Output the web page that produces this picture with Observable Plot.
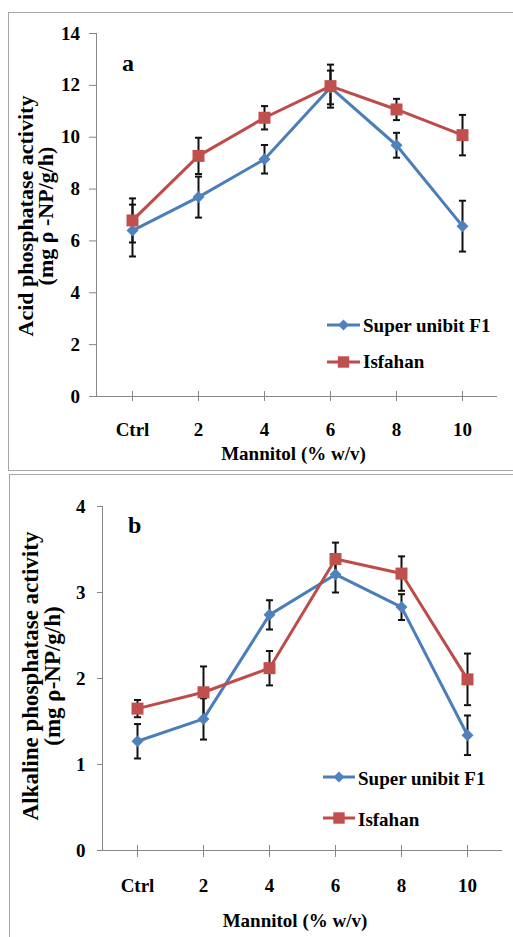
<!DOCTYPE html>
<html>
<head>
<meta charset="utf-8">
<script src="https://cdn.jsdelivr.net/npm/d3@7"></script>
<script src="https://cdn.jsdelivr.net/npm/@observablehq/plot@0.6"></script>
<style>
  html, body { margin: 0; padding: 0; background: #fff; width: 513px; height: 937px; overflow: hidden; }
  #page { position: relative; width: 513px; height: 937px; }
  .panel { position: absolute; left: 0; }
  .border { position: absolute; border: 1.5px solid #a6a6a6; box-sizing: border-box; pointer-events: none; }
  #overlay { position: absolute; left: 0; top: 0; pointer-events: none; }
  #overlay text { font-family: "Liberation Serif", "Times New Roman", serif; font-weight: bold; fill: #000; }
</style>
</head>
<body>
<div id="page">
  <div id="top" class="panel" style="top:0px"></div>
  <div id="bottom" class="panel" style="top:474px"></div>
  <div class="border" style="left:8px; top:12px; width:520px; height:459px;"></div>
  <div class="border" style="left:9px; top:474px; width:520px; height:480px;"></div>
  <svg id="overlay" width="513" height="937"></svg>
</div>
<script>
// ---- data ----
const categories = ["Ctrl", "2", "4", "6", "8", "10"];
const seriesNames = ["Super unibit F1", "Isfahan"];

// (a) Acid phosphatase activity (mg ρ-NP/g/h)
const acidSuper    = [6.40, 7.69, 9.15, 11.92, 9.69, 6.57];
const acidSuperErr = [1.00, 0.79, 0.55, 0.65, 0.48, 0.98];
const acidIsfahan    = [6.79, 9.28, 10.75, 11.97, 11.07, 10.08];
const acidIsfahanErr = [0.85, 0.70, 0.45, 0.83, 0.41, 0.78];
const acidTicks = [0, 2, 4, 6, 8, 10, 12, 14];

// (b) Alkaline phosphatase activity (mg ρ-NP/g/h)
const alkSuper    = [1.27, 1.53, 2.74, 3.21, 2.83, 1.34];
const alkSuperErr = [0.20, 0.24, 0.17, 0.21, 0.15, 0.23];
const alkIsfahan    = [1.65, 1.84, 2.12, 3.39, 3.22, 1.99];
const alkIsfahanErr = [0.10, 0.30, 0.20, 0.19, 0.20, 0.30];
const alkTicks = [0, 1, 2, 3, 4];

// ---- styles ----
const BLUE_LINE = "#4a7ebb", BLUE_MARK = "#4f81bd";
const RED_LINE = "#be4b48", RED_MARK = "#c0504d";
const AXIS = "#868686";
const FONT = "'Liberation Serif', 'Times New Roman', serif";

const diamondSym = {draw(ctx, size) { const r = Math.sqrt(size / 2); ctx.moveTo(0, -r); ctx.lineTo(r, 0); ctx.lineTo(0, r); ctx.lineTo(-r, 0); ctx.closePath(); }};
const capSym = {draw(ctx, size) { const w = Math.sqrt(size) / 2; ctx.moveTo(-w, 0); ctx.lineTo(w, 0); }};
const rFor = (area) => Math.sqrt(area / Math.PI);

function rows(vals, errs) {
  return categories.map((c, i) => ({cat: c, v: vals[i], lo: vals[i] - errs[i], hi: vals[i] + errs[i]}));
}

function panel(o) {
  const s1 = rows(o.v1, o.e1), s2 = rows(o.v2, o.e2);
  const errMarks = (d) => [
    Plot.ruleX(d, {x: "cat", y1: "lo", y2: "hi", stroke: "#111", strokeWidth: 2}),
    Plot.dot(d, {x: "cat", y: "lo", symbol: capSym, r: rFor(50), stroke: "#111", strokeWidth: 2, fill: "none"}),
    Plot.dot(d, {x: "cat", y: "hi", symbol: capSym, r: rFor(50), stroke: "#111", strokeWidth: 2, fill: "none"})
  ];
  return Plot.plot({
    width: 513,
    height: o.height,
    marginTop: o.mT, marginBottom: o.mB, marginLeft: o.mL, marginRight: o.mR,
    style: {fontFamily: FONT, fontWeight: "bold", fontSize: "19px", background: "transparent", color: "#000"},
    x: {type: "point", domain: categories, padding: 0.5, axis: null},
    y: {domain: [0, o.yTicks[o.yTicks.length - 1]], axis: null},
    marks: [
      Plot.ruleY([0], {stroke: AXIS, strokeWidth: 1}),
      Plot.frame({anchor: "left", stroke: AXIS, strokeWidth: 1}),
      Plot.axisY({ticks: o.yTicks, tickSize: o.yTickLen, tickPadding: o.yTickPad, stroke: AXIS, fill: "#000", fontSize: 19, label: null, tickFormat: d => String(d)}),
      Plot.axisX({tickSize: o.xTickLen, dy: -o.xTickUp, stroke: AXIS, tickFormat: null, label: null}),
      Plot.axisX({tickSize: 0, tickPadding: o.xLabPad, fill: "#000", fontSize: 19, label: null}),
      ...errMarks(s1),
      ...errMarks(s2),
      Plot.line(s1, {x: "cat", y: "v", stroke: BLUE_LINE, strokeWidth: 3}),
      Plot.dot(s1, {x: "cat", y: "v", symbol: diamondSym, r: rFor(72), fill: BLUE_MARK, stroke: "none"}),
      Plot.line(s2, {x: "cat", y: "v", stroke: RED_LINE, strokeWidth: 3}),
      Plot.dot(s2, {x: "cat", y: "v", symbol: "square", r: rFor(144), fill: RED_MARK, stroke: "none"})
    ]
  });
}

document.getElementById("top").append(panel({
  v1: acidSuper, e1: acidSuperErr, v2: acidIsfahan, e2: acidIsfahanErr, yTicks: acidTicks,
  height: 470, mT: 33, mB: 74, mL: 96, mR: 16,
  yTickLen: 7, yTickPad: 9.5, xTickLen: 10, xTickUp: 5, xLabPad: 25.5
}));
document.getElementById("bottom").append(panel({
  v1: alkSuper, e1: alkSuperErr, v2: alkIsfahan, e2: alkIsfahanErr, yTicks: alkTicks,
  height: 463, mT: 32, mB: 87, mL: 102, mR: 11,
  yTickLen: 5, yTickPad: 12, xTickLen: 12, xTickUp: 5, xLabPad: 27.5
}));

// ---- overlay text: titles, panel letters, legends ----
const ov = d3.select("#overlay");
function rotTitle(lines, cy) {
  lines.forEach(([t, bx, size]) => {
    ov.append("text").attr("transform", `translate(${bx},${cy}) rotate(-90)`)
      .attr("text-anchor", "middle").attr("font-size", size).text(t);
  });
}
rotTitle([["Acid phosphatase activity", 33, 22], ["(mg \u03c1 -NP/g/h)", 53, 22]], 216);
rotTitle([["Alkaline phosphatase activity", 38, 23], ["(mg \u03c1-NP/g/h)", 60, 23]], 676);

ov.append("text").attr("x", 293.5).attr("y", 460).attr("text-anchor", "middle").attr("font-size", 19).text("Mannitol (% w/v)");
ov.append("text").attr("x", 295).attr("y", 927).attr("text-anchor", "middle").attr("font-size", 19).text("Mannitol (% w/v)");
ov.append("text").attr("x", 122).attr("y", 71).attr("font-size", 24).text("a");
ov.append("text").attr("x", 128).attr("y", 533).attr("font-size", 24).text("b");

function legend(x0, x1, tx, ys, bases) {
  const items = [
    {name: seriesNames[0], line: BLUE_LINE, mark: BLUE_MARK, sym: d3.symbol(diamondSym, 60)},
    {name: seriesNames[1], line: RED_LINE, mark: RED_MARK, sym: d3.symbol(d3.symbolSquare, 130)}
  ];
  items.forEach((it, i) => {
    ov.append("line").attr("x1", x0).attr("x2", x1).attr("y1", ys[i]).attr("y2", ys[i])
      .attr("stroke", it.line).attr("stroke-width", 3);
    ov.append("path").attr("d", it.sym()).attr("transform", `translate(${(x0 + x1) / 2},${ys[i]})`).attr("fill", it.mark);
    ov.append("text").attr("x", tx).attr("y", bases[i]).attr("font-size", 19).text(it.name);
  });
}
legend(327, 360, 363, [325, 362], [332, 368]);
legend(323, 355, 358, [777, 818], [785, 826]);
</script>
</body>
</html>
